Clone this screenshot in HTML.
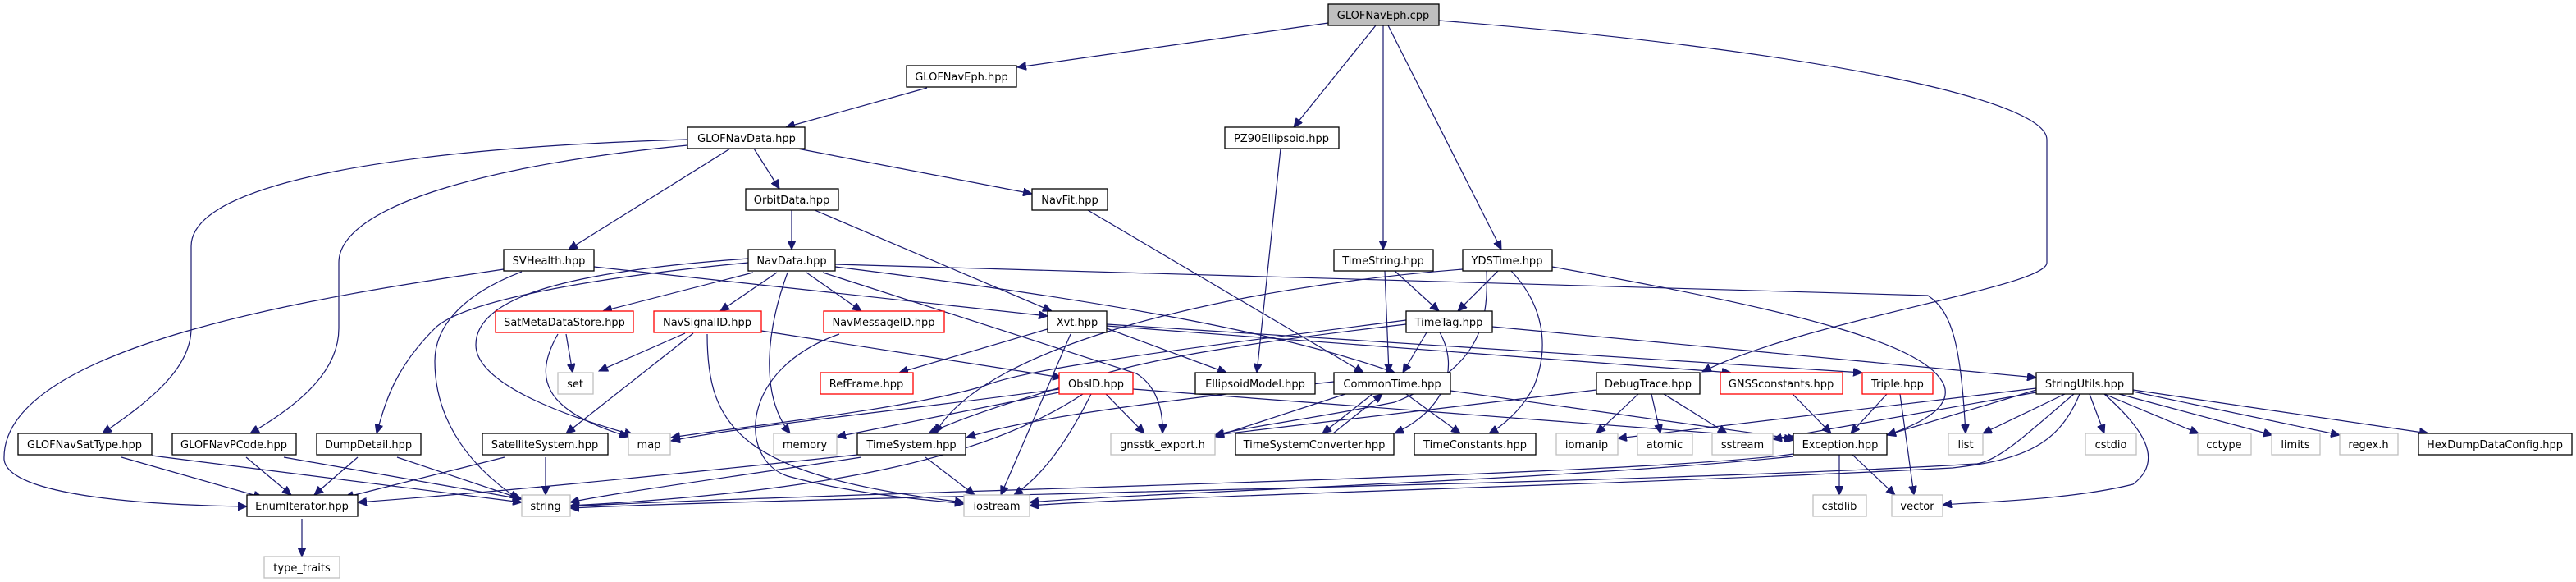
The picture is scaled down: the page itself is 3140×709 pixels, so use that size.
<!DOCTYPE html>
<html><head><meta charset="utf-8"><style>
html,body{margin:0;padding:0;background:#fff;}
svg{display:block;}
text{font-family:"DejaVu Sans","Liberation Sans",sans-serif;font-size:13px;text-anchor:middle;fill:#000;}
.e{fill:none;stroke:#191970;stroke-width:1.2;marker-end:url(#a);}
.n{fill:#fff;stroke:#000;stroke-width:1.3;}
.g{fill:#fff;stroke:#bfbfbf;stroke-width:1.3;}
.r{fill:#fff;stroke:#ff0000;stroke-width:1.3;}
</style></head><body>
<svg width="3140" height="709" viewBox="0 0 3140 709" xmlns="http://www.w3.org/2000/svg">
<defs><marker id="a" markerUnits="userSpaceOnUse" markerWidth="12" markerHeight="10" refX="11" refY="5" orient="auto"><path d="M0,0 L11,5 L0,10 z" fill="#191970" stroke="#191970"/></marker></defs>
<g>
<path class="e" d="M1619,28 L1240,82"/>
<path class="e" d="M1677,31 L1577,155"/>
<path class="e" d="M1686,31 L1686,304"/>
<path class="e" d="M1692,31 L1830,304"/>
<path class="e" d="M1754,25 C2200,60 2495,120 2495,170 L2495,320 C2495,350 2200,390 2075,453"/>
<path class="e" d="M1130,107 L958,155"/>
<path class="e" d="M919,181 L950,230"/>
<path class="e" d="M972,181 L1258,236"/>
<path class="e" d="M890,181 L693,304"/>
<path class="e" d="M838,170 C500,180 233,220 233,300 L233,400 C233,450 180,490 125,528"/>
<path class="e" d="M838,177 C600,200 413,250 413,320 L413,400 C413,450 370,490 305,528"/>
<path class="e" d="M965,256 L965,304"/>
<path class="e" d="M993,256 L1282,379"/>
<path class="e" d="M1326,256 L1662,454"/>
<path class="e" d="M1561,181 L1532,454"/>
<path class="e" d="M614,328 C400,360 0,420 5,560 C10,600 150,615 301,617"/>
<path class="e" d="M636,331 C560,360 530,400 530,440 C530,500 560,560 632,608"/>
<path class="e" d="M724,325 L1277,385"/>
<path class="e" d="M918,332 L735,379"/>
<path class="e" d="M947,332 L878,379"/>
<path class="e" d="M983,332 L1050,379"/>
<path class="e" d="M960,332 C935,400 925,480 963,528"/>
<path class="e" d="M1003,332 L1385,455 C1410,470 1418,500 1417,528"/>
<path class="e" d="M1018,325 C1300,360 1550,400 1700,454"/>
<path class="e" d="M1018,322 L2350,360 C2380,380 2390,420 2396,528"/>
<path class="e" d="M912,320 C700,340 560,370 530,400 C480,450 470,490 459,528"/>
<path class="e" d="M912,315 C700,330 580,360 580,420 C580,470 700,510 772,530"/>
<path class="e" d="M835,406 L730,452"/>
<path class="e" d="M845,406 L690,528"/>
<path class="e" d="M928,403 L1294,460"/>
<path class="e" d="M862,407 C862,520 900,580 1175,612"/>
<path class="e" d="M690,407 L698,454"/>
<path class="e" d="M680,407 C650,460 660,500 766,532"/>
<path class="e" d="M1023,407 C900,450 900,560 960,580 C1050,605 1150,610 1175,614"/>
<path class="e" d="M1280,400 L1096,454"/>
<path class="e" d="M1349,400 L1495,454"/>
<path class="e" d="M1305,407 L1220,603"/>
<path class="e" d="M1349,397 L2110,454"/>
<path class="e" d="M1349,395 L2270,454"/>
<path class="e" d="M1714,395 C1500,420 1380,440 1300,470 C1230,490 1170,510 1132,528"/>
<path class="e" d="M1291,474 C1100,500 900,520 818,537"/>
<path class="e" d="M1714,390 C1400,430 1250,450 1200,470 C1100,500 900,520 818,533"/>
<path class="e" d="M1291,478 L1020,532"/>
<path class="e" d="M1348,480 L1395,528"/>
<path class="e" d="M1330,480 C1300,540 1270,580 1236,603"/>
<path class="e" d="M1320,480 C1200,560 1000,600 695,616"/>
<path class="e" d="M1626,465 C1400,490 1250,510 1178,533"/>
<path class="e" d="M1381,474 L2186,535"/>
<path class="e" d="M1050,557 C900,580 750,600 695,612"/>
<path class="e" d="M1128,557 L1188,603"/>
<path class="e" d="M1045,554 C800,580 600,600 436,612"/>
<path class="e" d="M665,557 L665,603"/>
<path class="e" d="M615,557 L420,606"/>
<path class="e" d="M148,557 L320,606"/>
<path class="e" d="M185,555 L636,612"/>
<path class="e" d="M300,557 L355,603"/>
<path class="e" d="M346,557 L636,608"/>
<path class="e" d="M436,557 L383,603"/>
<path class="e" d="M484,557 L636,608"/>
<path class="e" d="M368,632 L368,678"/>
<path class="e" d="M1700,330 L1754,379"/>
<path class="e" d="M1688,330 L1693,454"/>
<path class="e" d="M1826,330 L1777,379"/>
<path class="e" d="M1842,330 C1880,370 1890,420 1870,470 C1855,500 1830,520 1815,528"/>
<path class="e" d="M1812,330 C1815,400 1800,450 1700,490 C1600,510 1520,520 1481,530"/>
<path class="e" d="M1892,325 C2200,380 2350,420 2370,470 C2380,500 2330,520 2300,530"/>
<path class="e" d="M1783,328 C1500,350 1200,420 1140,528"/>
<path class="e" d="M1739,405 L1710,454"/>
<path class="e" d="M1755,405 C1780,450 1760,500 1700,528"/>
<path class="e" d="M1819,398 L2482,460"/>
<path class="e" d="M1714,480 L1780,528"/>
<path class="e" d="M1673,480 L1612,528"/>
<path class="e" d="M1625,528 L1685,480"/>
<path class="e" d="M1768,476 L2190,535"/>
<path class="e" d="M1640,480 L1481,532"/>
<path class="e" d="M1997,480 L1946,528"/>
<path class="e" d="M2013,480 L2024,528"/>
<path class="e" d="M2028,480 L2105,528"/>
<path class="e" d="M1946,475 L1481,530"/>
<path class="e" d="M2185,480 L2232,528"/>
<path class="e" d="M2300,480 L2256,528"/>
<path class="e" d="M2316,480 L2333,603"/>
<path class="e" d="M2242,554 L2242,603"/>
<path class="e" d="M2258,554 L2310,603"/>
<path class="e" d="M2186,553 C2000,580 1000,600 695,617"/>
<path class="e" d="M2186,556 C1900,585 1400,600 1255,612"/>
<path class="e" d="M2547,480 L2565,528"/>
<path class="e" d="M2565,480 L2680,528"/>
<path class="e" d="M2583,480 L2770,530"/>
<path class="e" d="M2600,477 L2852,530"/>
<path class="e" d="M2600,475 L2960,528"/>
<path class="e" d="M2517,480 L2417,528"/>
<path class="e" d="M2482,475 L2300,530"/>
<path class="e" d="M2482,478 L2161,535"/>
<path class="e" d="M2482,473 L1972,534"/>
<path class="e" d="M2528,480 C2480,520 2440,560 2410,565 C2000,590 1000,605 695,619"/>
<path class="e" d="M2535,480 C2510,540 2470,560 2380,570 C2000,590 1400,605 1255,616"/>
<path class="e" d="M2565,480 C2610,520 2640,560 2600,590 C2520,610 2400,612 2368,615"/>
</g>
<g>
<rect x="1619" y="5" width="135" height="26" fill="#bfbfbf" stroke="#000" stroke-width="1.3"/><text x="1686" y="23">GLOFNavEph.cpp</text>
<rect class="n" x="1105" y="80" width="134" height="26"/><text x="1172" y="98">GLOFNavEph.hpp</text>
<rect class="n" x="838" y="155" width="143" height="26"/><text x="910" y="173">GLOFNavData.hpp</text>
<rect class="n" x="1493" y="155" width="139" height="26"/><text x="1562" y="173">PZ90Ellipsoid.hpp</text>
<rect class="n" x="909" y="230" width="113" height="26"/><text x="965" y="248">OrbitData.hpp</text>
<rect class="n" x="1258" y="230" width="92" height="26"/><text x="1304" y="248">NavFit.hpp</text>
<rect class="n" x="614" y="304" width="110" height="26"/><text x="669" y="322">SVHealth.hpp</text>
<rect class="n" x="912" y="304" width="106" height="26"/><text x="965" y="322">NavData.hpp</text>
<rect class="n" x="1626" y="304" width="121" height="26"/><text x="1686" y="322">TimeString.hpp</text>
<rect class="n" x="1783" y="304" width="109" height="26"/><text x="1837" y="322">YDSTime.hpp</text>
<rect class="r" x="604" y="379" width="168" height="26"/><text x="688" y="397">SatMetaDataStore.hpp</text>
<rect class="r" x="797" y="379" width="131" height="26"/><text x="862" y="397">NavSignalID.hpp</text>
<rect class="r" x="1004" y="379" width="147" height="26"/><text x="1077" y="397">NavMessageID.hpp</text>
<rect class="n" x="1277" y="379" width="72" height="26"/><text x="1313" y="397">Xvt.hpp</text>
<rect class="n" x="1714" y="379" width="105" height="26"/><text x="1766" y="397">TimeTag.hpp</text>
<rect class="g" x="680" y="454" width="43" height="26"/><text x="701" y="472">set</text>
<rect class="r" x="1000" y="454" width="113" height="26"/><text x="1056" y="472">RefFrame.hpp</text>
<rect class="r" x="1291" y="454" width="90" height="26"/><text x="1336" y="472">ObsID.hpp</text>
<rect class="n" x="1457" y="454" width="146" height="26"/><text x="1530" y="472">EllipsoidModel.hpp</text>
<rect class="n" x="1626" y="454" width="142" height="26"/><text x="1697" y="472">CommonTime.hpp</text>
<rect class="n" x="1946" y="454" width="126" height="26"/><text x="2009" y="472">DebugTrace.hpp</text>
<rect class="r" x="2097" y="454" width="149" height="26"/><text x="2171" y="472">GNSSconstants.hpp</text>
<rect class="r" x="2270" y="454" width="86" height="26"/><text x="2313" y="472">Triple.hpp</text>
<rect class="n" x="2482" y="454" width="118" height="26"/><text x="2541" y="472">StringUtils.hpp</text>
<rect class="n" x="22" y="528" width="163" height="26"/><text x="103" y="546">GLOFNavSatType.hpp</text>
<rect class="n" x="210" y="528" width="151" height="26"/><text x="285" y="546">GLOFNavPCode.hpp</text>
<rect class="n" x="386" y="528" width="127" height="26"/><text x="449" y="546">DumpDetail.hpp</text>
<rect class="n" x="588" y="528" width="153" height="26"/><text x="664" y="546">SatelliteSystem.hpp</text>
<rect class="g" x="766" y="528" width="51" height="26"/><text x="791" y="546">map</text>
<rect class="g" x="943" y="528" width="77" height="26"/><text x="981" y="546">memory</text>
<rect class="n" x="1045" y="528" width="132" height="26"/><text x="1111" y="546">TimeSystem.hpp</text>
<rect class="g" x="1354" y="528" width="127" height="26"/><text x="1417" y="546">gnsstk_export.h</text>
<rect class="n" x="1506" y="528" width="193" height="26"/><text x="1602" y="546">TimeSystemConverter.hpp</text>
<rect class="n" x="1724" y="528" width="148" height="26"/><text x="1798" y="546">TimeConstants.hpp</text>
<rect class="g" x="1897" y="528" width="75" height="26"/><text x="1934" y="546">iomanip</text>
<rect class="g" x="1996" y="528" width="67" height="26"/><text x="2029" y="546">atomic</text>
<rect class="g" x="2087" y="528" width="74" height="26"/><text x="2124" y="546">sstream</text>
<rect class="n" x="2186" y="528" width="114" height="26"/><text x="2243" y="546">Exception.hpp</text>
<rect class="g" x="2375" y="528" width="42" height="26"/><text x="2396" y="546">list</text>
<rect class="g" x="2542" y="528" width="62" height="26"/><text x="2573" y="546">cstdio</text>
<rect class="g" x="2679" y="528" width="65" height="26"/><text x="2711" y="546">cctype</text>
<rect class="g" x="2769" y="528" width="59" height="26"/><text x="2798" y="546">limits</text>
<rect class="g" x="2852" y="528" width="71" height="26"/><text x="2887" y="546">regex.h</text>
<rect class="n" x="2948" y="528" width="187" height="26"/><text x="3041" y="546">HexDumpDataConfig.hpp</text>
<rect class="n" x="301" y="603" width="135" height="26"/><text x="368" y="621">EnumIterator.hpp</text>
<rect class="g" x="636" y="603" width="59" height="26"/><text x="665" y="621">string</text>
<rect class="g" x="1175" y="603" width="80" height="26"/><text x="1215" y="621">iostream</text>
<rect class="g" x="2210" y="603" width="65" height="26"/><text x="2242" y="621">cstdlib</text>
<rect class="g" x="2306" y="603" width="62" height="26"/><text x="2337" y="621">vector</text>
<rect class="g" x="322" y="678" width="92" height="26"/><text x="368" y="696">type_traits</text>
</g>
</svg>
</body></html>
